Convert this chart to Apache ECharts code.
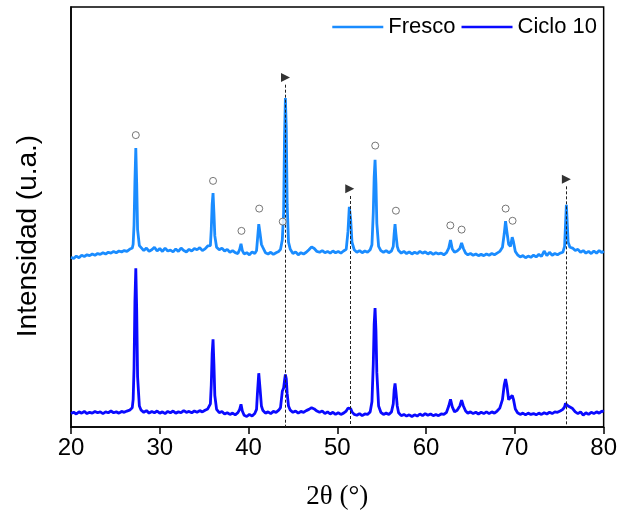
<!DOCTYPE html>
<html>
<head>
<meta charset="utf-8">
<script src="https://cdn.jsdelivr.net/npm/echarts@6/dist/echarts.min.js"></script>
<style>
  html, body { margin: 0; padding: 0; background: #fff; }
  #chart { width: 620px; height: 515px; }
</style>
</head>
<body>
<div id="chart"></div>
<script>
// X-ray diffraction patterns: [2θ (°), intensity in arbitrary units]
const fresco = [
  [20.0,40.4],[20.3,40.1],[20.6,40.7],[20.9,40.3],[21.2,40.9],[21.5,40.6],[21.8,41.0],[22.1,40.8],[22.4,41.2],[22.7,40.9],
  [23.0,41.3],[23.3,41.1],[23.6,41.5],[23.9,41.2],[24.2,41.6],[24.5,41.4],[24.8,41.8],[25.1,41.5],[25.4,41.9],[25.7,41.7],
  [26.0,42.0],[26.3,41.8],[26.6,42.3],[26.9,42.6],
  [27.0,43.5],[27.1,48],[27.2,58.5],[27.3,66.4],[27.4,58],[27.5,47],[27.7,43.2],
  [27.9,42.8],[28.2,42.0],[28.5,42.6],[28.8,41.8],[29.1,42.2],[29.4,42.8],[29.7,41.9],[30.0,42.5],[30.3,41.8],[30.6,42.6],
  [30.9,41.9],[31.2,42.1],[31.5,41.7],[31.8,42.4],[32.1,41.8],[32.4,42.6],[32.7,42.0],[33.0,41.7],[33.3,42.3],[33.6,41.9],
  [33.9,42.5],[34.2,42.2],[34.5,42.7],[34.8,42.0],[35.1,42.4],[35.4,43.1],
  [35.7,43.2],[35.8,47],[35.9,53],[36.0,55.7],[36.1,51],[36.2,45.5],[36.4,42.8],
  [36.7,42.2],[37.0,42.6],[37.3,41.9],[37.6,42.3],[37.9,41.6],[38.2,42.0],[38.5,41.5],[38.8,41.3],
  [39.0,42.3],[39.15,43.6],[39.3,42.0],
  [39.5,41.2],[39.8,41.5],[40.1,41.0],[40.4,41.7],[40.7,41.3],
  [40.9,42.0],[41.0,44.5],[41.15,48.3],[41.3,46],[41.45,43.5],[41.6,42.8],
  [41.9,41.5],[42.2,41.2],[42.5,41.6],[42.8,41.1],[43.1,41.5],[43.4,41.8],
  [43.6,42.3],[43.8,44.5],[43.95,51],[44.05,69],[44.15,78.3],[44.25,71],[44.35,53],[44.5,44],[44.7,42.3],
  [45.0,41.3],[45.3,41.7],[45.6,41.0],[45.9,41.5],[46.2,41.2],[46.5,41.6],[46.8,42.2],[47.1,42.9],[47.4,42.5],[47.7,41.8],
  [48.0,41.6],[48.3,42.0],[48.6,41.5],[48.9,41.8],[49.2,41.4],[49.5,41.9],[49.8,41.5],[50.1,41.8],[50.4,41.4],[50.7,41.9],
  [51.0,42.3],[51.2,46.5],[51.35,52.4],[51.5,49.5],[51.65,44],[51.9,42.2],
  [52.2,41.6],[52.5,42.0],[52.8,41.5],[53.1,41.9],[53.4,41.6],[53.7,42.2],
  [53.9,43.4],[54.05,51],[54.15,59.5],[54.25,63.6],[54.35,58],[54.45,48.5],[54.65,43],
  [54.9,42.0],[55.2,41.6],[55.5,42.0],[55.8,41.5],[56.1,41.9],
  [56.3,43.0],[56.4,46],[56.5,48.3],[56.6,46],[56.75,43],[56.9,42.0],
  [57.2,41.4],[57.5,41.8],[57.8,41.3],[58.1,41.7],[58.4,41.2],[58.7,41.6],[59.0,41.3],[59.3,41.8],[59.6,41.4],[59.9,41.7],
  [60.2,41.2],[60.5,41.6],[60.8,41.1],[61.1,41.5],[61.4,41.2],[61.7,41.4],[62.0,41.0],[62.3,41.5],
  [62.55,42.6],[62.75,44.5],[62.95,42.4],[63.2,41.6],[63.5,41.9],
  [63.8,42.5],[64.0,43.8],[64.2,42.5],[64.45,41.4],
  [64.7,41.0],[65.0,41.3],[65.3,40.9],[65.6,41.2],[65.9,40.8],[66.2,41.1],[66.5,40.8],[66.8,41.2],[67.1,40.9],[67.4,41.3],
  [67.7,41.0],[68.0,41.4],[68.3,41.8],
  [68.6,42.8],[68.8,46],[68.95,49],[69.1,46.5],[69.3,43.5],[69.5,43.0],[69.7,45.2],[69.85,44.0],[70.05,41.8],[70.3,41.0],
  [70.6,40.5],[70.9,40.8],[71.2,40.3],[71.5,40.7],[71.8,40.4],[72.1,40.9],[72.4,40.5],[72.7,41.1],[73.0,40.6],[73.3,41.9],
  [73.6,40.8],[73.9,41.6],[74.2,40.9],[74.5,41.3],[74.8,41.0],[75.1,41.4],[75.4,41.6],
  [75.6,43],[75.7,48],[75.8,52.9],[75.9,48.5],[76.0,44],[76.2,42.8],[76.5,42.6],
  [76.8,42.0],[77.1,42.3],[77.4,41.6],[77.7,42.0],[78.0,41.4],[78.3,41.8],[78.6,41.3],[78.9,41.9],[79.2,41.4],[79.5,42.0],
  [79.8,41.5],[80.0,41.9]
];

const ciclo10 = [
  [20.0,3.2],[20.3,3.5],[20.6,3.1],[20.9,3.6],[21.2,3.3],[21.5,3.7],[21.8,3.2],[22.1,3.5],[22.4,3.3],[22.7,3.7],
  [23.0,3.4],[23.3,3.6],[23.6,3.2],[23.9,3.6],[24.2,3.4],[24.5,3.8],[24.8,3.4],[25.1,3.6],[25.4,3.3],[25.7,3.7],
  [26.0,3.5],[26.3,3.8],[26.6,4.0],[26.9,4.6],
  [27.0,6.5],[27.1,14],[27.2,30],[27.3,37.8],[27.4,28],[27.5,12],[27.7,5.0],
  [27.9,4.0],[28.2,3.5],[28.5,3.9],[28.8,3.3],[29.1,3.7],[29.4,3.4],[29.7,3.8],[30.0,3.3],[30.3,3.6],[30.6,3.2],
  [30.9,3.7],[31.2,3.4],[31.5,3.8],[31.8,3.3],[32.1,3.6],[32.4,3.4],[32.7,3.9],[33.0,3.5],[33.3,3.7],[33.6,3.4],
  [33.9,3.8],[34.2,3.5],[34.5,3.9],[34.8,3.6],[35.1,4.0],[35.4,4.3],
  [35.7,5.5],[35.8,10],[35.9,17.5],[36.0,20.9],[36.1,15],[36.2,7.5],[36.4,4.2],
  [36.7,3.4],[37.0,3.7],[37.3,3.1],[37.6,3.4],[37.9,3.0],[38.2,3.3],[38.5,2.9],[38.8,3.4],
  [39.0,4.2],[39.15,5.4],[39.3,3.8],
  [39.5,2.8],[39.8,2.5],[40.1,3.0],[40.4,2.6],[40.7,3.2],
  [40.9,4.2],[41.0,8],[41.15,12.8],[41.3,9],[41.45,5.0],[41.6,4.0],
  [41.9,3.3],[42.2,3.6],[42.5,3.2],[42.8,3.7],[43.1,3.5],[43.4,4.0],
  [43.6,4.6],[43.8,8.5],[43.95,9.3],[44.05,11],[44.15,12.5],[44.25,11.5],[44.35,8],[44.5,5],[44.7,4.0],
  [45.0,3.5],[45.3,3.8],[45.6,3.3],[45.9,3.7],[46.2,3.5],[46.5,3.9],[46.8,4.2],[47.1,4.6],[47.4,4.3],[47.7,3.8],
  [48.0,3.5],[48.3,3.8],[48.6,3.2],[48.9,3.6],[49.2,3.1],[49.5,3.5],[49.8,3.0],[50.1,3.4],[50.4,3.0],[50.7,3.3],
  [51.0,3.8],[51.2,4.5],[51.35,4.8],[51.5,4.4],[51.65,3.6],[51.9,3.0],
  [52.2,2.8],[52.5,3.2],[52.8,2.7],[53.1,3.1],[53.4,3.0],[53.7,3.6],
  [53.9,6],[54.05,15],[54.15,24.5],[54.25,28.3],[54.35,23],[54.45,13],[54.65,5.0],
  [54.9,3.5],[55.2,3.0],[55.5,3.3],[55.8,3.0],[56.1,3.6],
  [56.3,5.5],[56.4,8.8],[56.5,10.4],[56.6,8.5],[56.75,5.0],[56.9,3.4],
  [57.2,2.7],[57.5,3.0],[57.8,2.6],[58.1,2.9],[58.4,2.5],[58.7,2.9],[59.0,2.6],[59.3,3.1],[59.6,2.7],[59.9,3.2],
  [60.2,2.8],[60.5,3.1],[60.8,2.7],[61.1,3.0],[61.4,2.7],[61.7,3.1],[62.0,3.0],[62.3,3.5],
  [62.55,5.0],[62.75,6.6],[62.95,4.8],[63.2,3.6],[63.5,4.0],
  [63.8,5.0],[64.0,6.4],[64.2,5.0],[64.45,3.8],
  [64.7,3.3],[65.0,3.6],[65.3,3.2],[65.6,3.5],[65.9,3.1],[66.2,3.5],[66.5,3.2],[66.8,3.6],[67.1,3.2],[67.4,3.6],
  [67.7,3.3],[68.0,3.8],[68.3,4.5],
  [68.6,6.5],[68.8,10],[68.95,11.4],[69.1,9.8],[69.3,6.5],[69.5,6.3],[69.7,7.5],[69.85,6.5],[70.05,4.3],[70.3,3.4],
  [70.6,3.0],[70.9,3.3],[71.2,2.9],[71.5,3.3],[71.8,3.0],[72.1,3.2],[72.4,2.9],[72.7,3.3],[73.0,3.0],[73.3,3.4],
  [73.6,3.1],[73.9,3.5],[74.2,3.2],[74.5,3.6],[74.8,3.5],[75.1,3.8],[75.4,4.2],
  [75.6,4.8],[75.7,5.6],[75.8,6.0],[75.9,5.4],[76.0,5.0],[76.2,4.9],[76.5,4.4],
  [76.8,3.6],[77.1,3.2],[77.4,3.6],[77.7,2.8],[78.0,3.4],[78.3,3.0],[78.6,3.5],[78.9,3.2],[79.2,3.6],[79.5,3.3],
  [79.8,3.8],[80.0,3.6]
];

// Phase markers placed above the peaks of the fresh sample
const circleMarks = [
  [27.3,69.5],[36.0,58.6],[39.2,46.7],[41.2,52.0],[43.85,48.9],[54.27,67.0],
  [56.6,51.5],[62.73,48.0],[64.0,47.0],[68.96,52.0],[69.74,49.1]
];
const triangleMarks = [[44.16,83.2],[51.4,56.7],[75.8,59.0]];
// Reference lines drop from just under each triangle to the baseline
const dropLineTops = [81.5, 55.0, 57.3];

const xTicks = { min: 20, max: 80, step: 10 };
const labels = { x: '2θ (°)', y: 'Intensidad (u.a.)' };

const chart = echarts.init(document.getElementById('chart'), null, { renderer: 'canvas' });

const sans = '"Liberation Sans", Arial, sans-serif';
const serif = '"Liberation Serif", "Times New Roman", serif';

const dropLines = triangleMarks.map((t, i) => [
  { coord: [t[0], dropLineTops[i]] },
  { coord: [t[0], 0] }
]);

chart.setOption({
  animation: false,
  backgroundColor: '#fff',
  grid: {
    left: 71, right: 15, top: 7, bottom: 87,
    show: true, borderColor: '#000', borderWidth: 1.5, backgroundColor: 'transparent'
  },
  legend: {
    right: 23, top: 16, padding: 0,
    icon: 'rect',
    itemWidth: 51, itemHeight: 2.5, itemGap: 6,
    textStyle: { fontFamily: sans, fontSize: 22, color: '#000' },
    data: ['Fresco', 'Ciclo 10']
  },
  xAxis: {
    type: 'value',
    min: xTicks.min, max: xTicks.max, interval: xTicks.step,
    name: labels.x,
    nameLocation: 'middle',
    nameGap: 56,
    nameTextStyle: { fontFamily: serif, fontSize: 27, color: '#000' },
    axisLine: { show: true, lineStyle: { color: '#000', width: 1.5 } },
    axisTick: { show: true, inside: false, length: 7, lineStyle: { color: '#000', width: 1.5 } },
    axisLabel: { fontFamily: sans, fontSize: 24, color: '#000', margin: 9 },
    splitLine: { show: false }
  },
  yAxis: {
    type: 'value', min: 0, max: 100,
    axisLine: { show: true, lineStyle: { color: '#000', width: 1.5 } },
    axisTick: { show: false },
    axisLabel: { show: false },
    splitLine: { show: false }
  },
  graphic: [{
    type: 'text',
    x: 28, y: 236,
    rotation: Math.PI / 2,
    style: {
      text: labels.y,
      font: '28px ' + sans,
      fill: '#000',
      textAlign: 'center',
      textVerticalAlign: 'middle'
    }
  }],
  series: [
    {
      name: 'Fresco', type: 'line', data: fresco,
      symbol: 'none', showSymbol: false,
      lineStyle: { color: '#1a8cff', width: 2.8 },
      itemStyle: { color: '#1a8cff' },
      z: 3
    },
    {
      name: 'Ciclo 10', type: 'line', data: ciclo10,
      symbol: 'none', showSymbol: false,
      lineStyle: { color: '#0a0aff', width: 2.8 },
      itemStyle: { color: '#0a0aff' },
      z: 3
    },
    {
      name: 'circles', type: 'scatter', data: circleMarks,
      symbol: 'circle', symbolSize: 7,
      itemStyle: { color: '#fff', borderColor: '#555', borderWidth: 1 },
      z: 5, silent: true
    },
    {
      name: 'triangles', type: 'scatter', data: triangleMarks,
      symbol: 'triangle', symbolSize: 9, symbolRotate: -90,
      itemStyle: { color: '#000' },
      z: 5, silent: true,
      markLine: {
        silent: true, symbol: 'none', animation: false,
        label: { show: false },
        lineStyle: { color: '#222', width: 1, type: [3, 2] },
        data: dropLines
      }
    }
  ]
});
</script>
</body>
</html>
